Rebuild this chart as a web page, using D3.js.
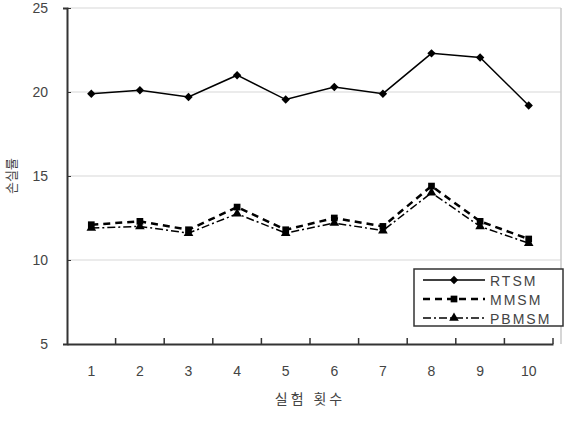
<!DOCTYPE html>
<html lang="ko">
<head>
<meta charset="UTF-8">
<title>실험 횟수</title>
<script src="https://d3js.org/d3.v7.min.js"></script>
<style>
    body { margin: 0; background: #fff; }
    text { font-family: "Liberation Sans", "Noto Sans CJK KR", sans-serif; fill: #444; }
    .korean { font-family: "Noto Sans CJK KR", sans-serif; }
</style>
</head>
<body>
<svg id="chart" width="569" height="421"></svg>
<script>
    const runs = ['1', '2', '3', '4', '5', '6', '7', '8', '9', '10'];
    const rtsm = [19.9, 20.1, 19.7, 21.0, 19.55, 20.3, 19.9, 22.3, 22.05, 19.2];
    const mmsm = [12.1, 12.3, 11.8, 13.15, 11.8, 12.5, 12.0, 14.4, 12.3, 11.25];
    const pbmsm = [11.9, 12.0, 11.6, 12.75, 11.6, 12.2, 11.75, 14.0, 12.0, 11.0];
    const yTicks = [5, 10, 15, 20, 25];
    const seriesNames = ['RTSM', 'MMSM', 'PBMSM'];

    const svg = d3.select('#chart');
    const plotLeft = 67, plotRight = 553, plotTop = 8, plotBottom = 344;

    const x = d3.scaleBand().domain(runs).range([plotLeft, plotRight]);
    const y = d3.scaleLinear().domain([5, 25]).range([plotBottom, plotTop]);

    // gridlines
    svg.append('g')
        .selectAll('line')
        .data(yTicks.slice(1))
        .enter()
        .append('line')
        .attr('x1', plotLeft).attr('x2', 561)
        .attr('y1', d => y(d)).attr('y2', d => y(d))
        .attr('stroke', '#e4e4e4').attr('stroke-width', 1.5);

    // right border
    svg.append('line')
        .attr('x1', 561).attr('x2', 561)
        .attr('y1', y(25)).attr('y2', plotBottom)
        .attr('stroke', '#c8c8c8').attr('stroke-width', 1.5);

    // y axis
    const yAxis = svg.append('g')
        .attr('transform', `translate(${plotLeft},0)`)
        .call(d3.axisLeft(y).tickValues(yTicks).tickSize(4).tickPadding(15));
    yAxis.select('.domain').attr('stroke', '#333').attr('stroke-width', 2);
    yAxis.selectAll('.tick line').attr('stroke', '#333').attr('x2', 4);
    yAxis.selectAll('.tick text').style('font-size', '14px').attr('fill', '#444');

    // x axis
    const xAxis = svg.append('g')
        .attr('transform', `translate(0,${plotBottom})`)
        .call(d3.axisBottom(x).tickSize(0).tickPadding(22));
    xAxis.select('.domain').attr('stroke', '#333').attr('stroke-width', 2);
    xAxis.selectAll('.tick text').style('font-size', '14px').attr('fill', '#444');
    // category separator ticks
    xAxis.selectAll('.sep')
        .data(runs)
        .enter()
        .append('line')
        .attr('x1', d => x(d) + x.bandwidth()).attr('x2', d => x(d) + x.bandwidth())
        .attr('y1', 0).attr('y2', -6)
        .attr('stroke', '#333').attr('stroke-width', 1.5);

    // axis titles
    svg.append('text')
        .attr('class', 'korean')
        .attr('x', (plotLeft + plotRight) / 2)
        .attr('y', 404)
        .attr('text-anchor', 'middle')
        .style('font-size', '14px')
        .style('letter-spacing', '3px')
        .text('실험 횟수');

    svg.append('text')
        .attr('class', 'korean')
        .attr('transform', 'translate(16,176) rotate(-90)')
        .attr('text-anchor', 'middle')
        .style('font-size', '13px')
        .text('손실률');

    const line = d3.line()
        .x((d, i) => x(runs[i]) + x.bandwidth() / 2)
        .y(d => y(d));

    const styles = [
        { data: rtsm, dash: null, width: 1.5, symbol: d3.symbolDiamond2, size: 45 },
        { data: mmsm, dash: '7,5', width: 2.5, symbol: d3.symbolSquare, size: 45 },
        { data: pbmsm, dash: '8,3,2,3', width: 1.5, symbol: d3.symbolTriangle, size: 40 }
    ];

    styles.forEach(s => {
        svg.append('path')
            .datum(s.data)
            .attr('d', line)
            .attr('fill', 'none')
            .attr('stroke', '#000')
            .attr('stroke-width', s.width)
            .attr('stroke-dasharray', s.dash);
        svg.append('g')
            .selectAll('path')
            .data(s.data)
            .enter()
            .append('path')
            .attr('transform', (d, i) => `translate(${x(runs[i]) + x.bandwidth() / 2},${y(d)})`)
            .attr('d', d3.symbol().type(s.symbol).size(s.size))
            .attr('fill', '#000');
    });

    // legend
    const legend = svg.append('g').attr('transform', 'translate(414,269)');
    legend.append('rect')
        .attr('width', 149).attr('height', 57)
        .attr('fill', '#fff').attr('stroke', '#333').attr('stroke-width', 1.5);
    const clip = svg.append('clipPath').attr('id', 'legclip');
    clip.append('rect').attr('x', 0).attr('y', 0).attr('width', 149).attr('height', 57);
    const rowsWrap = legend.append('g').attr('clip-path', 'url(#legclip)');
    const rows = rowsWrap.selectAll('.row')
        .data(seriesNames)
        .enter()
        .append('g')
        .attr('transform', (d, i) => `translate(0,${11 + i * 19})`);
    rows.append('line')
        .attr('x1', 9).attr('x2', 71)
        .attr('stroke', '#000')
        .attr('stroke-width', (d, i) => styles[i].width)
        .attr('stroke-dasharray', (d, i) => styles[i].dash);
    rows.append('path')
        .attr('transform', 'translate(40,0)')
        .attr('d', (d, i) => d3.symbol().type(styles[i].symbol).size(styles[i].size)())
        .attr('fill', '#000');
    rows.append('text')
        .attr('x', 76).attr('y', 6)
        .style('font-size', '14px')
        .style('letter-spacing', '2px')
        .text(d => d);
</script>
</body>
</html>
